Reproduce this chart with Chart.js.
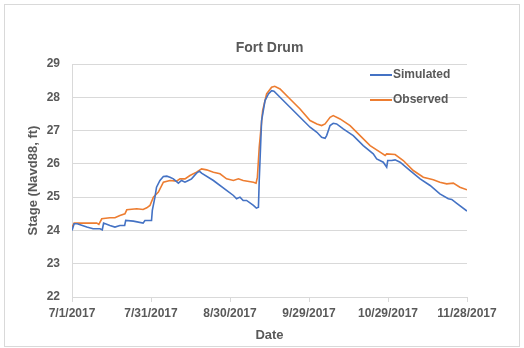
<!DOCTYPE html>
<html>
<head>
<meta charset="utf-8">
<script src="https://cdn.jsdelivr.net/npm/chart.js@4/dist/chart.umd.min.js"></script>
<style>
  html, body { margin: 0; padding: 0; background: #fff; }
  #wrap { width: 524px; height: 348px; }
</style>
</head>
<body>
<div id="wrap"><canvas id="chart" width="524" height="348"></canvas></div>
<script>
// Данные графика (дни от 7/1/2017)
const tickLabels = ['7/1/2017', '7/31/2017', '8/30/2017', '9/29/2017', '10/29/2017', '11/28/2017'];

const simDays = [0, 0.8, 2, 5.6, 8, 10.6, 11.5, 12, 14.4, 16.3, 18.2, 20, 20.4, 23.3, 27, 27.7, 30.2, 30.5, 31.5, 32.1,
  33.4, 34.7, 36, 37.2, 38.5, 40.4, 41.6, 42.9, 44.2, 45.4, 47.3, 48.4, 49.2, 53.7, 58.7, 61.3, 62.5, 63.8, 65, 66.3,
  68.9, 70, 70.8, 71.1, 72, 73.3, 74.6, 75.8, 76.7, 79, 82.8, 86.6, 90.4, 93, 94.8, 96.1, 96.7, 98, 99.2, 100.5,
  103, 106.8, 110.6, 114.4, 115.7, 118.2, 119.5, 119.9, 121.4, 122.7, 124.6, 128.4, 132.2, 136, 139.7, 142.9, 144.2, 146, 150];
const simStage = [24.0, 24.2, 24.2, 24.1, 24.05, 24.05, 24.02, 24.22, 24.15, 24.1, 24.15, 24.15, 24.3, 24.28, 24.22, 24.3, 24.3, 24.6, 25.0, 25.3,
  25.5, 25.62, 25.63, 25.6, 25.55, 25.42, 25.5, 25.45, 25.5, 25.55, 25.72, 25.78, 25.72, 25.5, 25.2, 25.05, 24.95, 25.0, 24.9, 24.9,
  24.75, 24.67, 24.7, 25.5, 27.3, 27.9, 28.1, 28.2, 28.18, 28.0, 27.7, 27.4, 27.1, 26.95, 26.8, 26.77, 26.85, 27.15, 27.22, 27.2,
  27.05, 26.85, 26.55, 26.3, 26.15, 26.05, 25.9, 26.1, 26.1, 26.12, 26.05, 25.8, 25.55, 25.35, 25.1, 24.95, 24.93, 24.82, 24.58];

const obsDays = [0, 0.8, 5.6, 9.4, 10.2, 11.3, 14.4, 16.3, 18.2, 20.1, 20.8, 24.6, 27, 28.4, 29.6, 30.9, 32.8, 34.7, 37.2, 39.7,
  41, 42.9, 44.8, 47.3, 49.2, 51.1, 53.7, 56.2, 58.7, 61.3, 63.2, 65, 68.9, 69.9, 70.4, 71.1, 72.4, 73.9, 75.8, 77,
  79, 82.8, 86.6, 90.4, 93, 94.8, 96.1, 98, 99.2, 101.8, 105.6, 109.4, 113.2, 117, 118.9, 119.5, 122.7, 125.8, 129.6, 133.4,
  137.2, 139.7, 142.3, 144.8, 147.3, 150];
const obsStage = [24.1, 24.22, 24.22, 24.22, 24.18, 24.35, 24.38, 24.38, 24.45, 24.5, 24.62, 24.65, 24.63, 24.68, 24.75, 25.0, 25.15, 25.45, 25.5, 25.48,
  25.55, 25.55, 25.65, 25.75, 25.85, 25.82, 25.75, 25.7, 25.55, 25.5, 25.55, 25.5, 25.45, 25.42, 25.6, 26.5, 27.6, 28.1, 28.3, 28.33,
  28.25, 27.95, 27.65, 27.3, 27.2, 27.15, 27.2, 27.4, 27.45, 27.35, 27.15, 26.85, 26.55, 26.35, 26.25, 26.3, 26.28, 26.1, 25.8, 25.6,
  25.52, 25.45, 25.4, 25.42, 25.3, 25.22];

const GRAY = '#595959';
const FONT = "'Liberation Sans', Arial, sans-serif";

function toPoints(days, vals) {
  return days.map((d, i) => ({ x: d, y: vals[i] }));
}

// Заголовок, легенда и рамка рисуются вручную
const decor = {
  id: 'decor',
  beforeDraw(chart) {
    const { ctx } = chart;
    ctx.save();
    ctx.fillStyle = '#fff';
    ctx.fillRect(0, 0, chart.width, chart.height);
    ctx.strokeStyle = '#d9d9d9';
    ctx.lineWidth = 1;
    ctx.strokeRect(4.5, 4.5, chart.width - 9, chart.height - 6);
    ctx.restore();
  },
  afterDraw(chart) {
    const { ctx, chartArea } = chart;
    ctx.save();
    ctx.fillStyle = GRAY;
    ctx.font = `bold 14px ${FONT}`;
    ctx.textAlign = 'center';
    ctx.textBaseline = 'middle';
    ctx.fillText('Fort Drum', (chartArea.left + chartArea.right) / 2, 48);

    ctx.font = `bold 12px ${FONT}`;
    ctx.textAlign = 'left';
    chart.data.datasets.forEach((ds, i) => {
      const y = 75 + i * 25;
      ctx.strokeStyle = ds.borderColor;
      ctx.lineWidth = 2;
      ctx.beginPath();
      ctx.moveTo(370, y);
      ctx.lineTo(392, y);
      ctx.stroke();
      ctx.fillText(ds.label, 393, y);
    });
    ctx.restore();
  },
};

const chart = new Chart(document.getElementById('chart'), {
  type: 'line',
  data: {
    datasets: [
      {
        label: 'Simulated',
        data: toPoints(simDays, simStage),
        borderColor: '#4472C4',
        borderWidth: 1.6,
        pointRadius: 0,
        tension: 0,
      },
      {
        label: 'Observed',
        data: toPoints(obsDays, obsStage),
        borderColor: '#ED7D31',
        borderWidth: 1.6,
        pointRadius: 0,
        tension: 0,
      },
    ],
  },
  options: {
    responsive: false,
    animation: false,
    layout: {
      padding: { left: 10, right: 57, top: 64, bottom: 5 },
    },
    scales: {
      x: {
        type: 'linear',
        min: 0,
        max: 150,
        afterBuildTicks: (axis) => {
          axis.ticks = tickLabels.map((t, i) => ({ value: i * 30 }));
        },
        ticks: {
          color: GRAY,
          font: { family: FONT, size: 12, weight: 'bold' },
          padding: 4,
          maxRotation: 0,
          callback: (v, i) => tickLabels[i],
        },
        grid: {
          drawOnChartArea: false,
          drawTicks: true,
          tickLength: 5,
          color: '#d9d9d9',
        },
        border: { display: true, color: '#d9d9d9' },
        title: {
          display: true,
          text: 'Date',
          color: GRAY,
          font: { family: FONT, size: 13, weight: 'bold' },
          padding: { top: 4, bottom: 0 },
        },
        afterFit: (axis) => { axis.height = 46; },
      },
      y: {
        min: 22,
        max: 29,
        ticks: {
          stepSize: 1,
          color: GRAY,
          font: { family: FONT, size: 12, weight: 'bold' },
          padding: 12,
        },
        grid: {
          color: '#d9d9d9',
          drawTicks: false,
        },
        border: { display: true, color: '#d9d9d9' },
        title: {
          display: true,
          text: 'Stage (Navd88, ft)',
          color: GRAY,
          font: { family: FONT, size: 13, weight: 'bold' },
          padding: { top: 16, bottom: 0 },
        },
        afterFit: (axis) => { axis.width = 62; },
      },
    },
    plugins: {
      legend: { display: false },
      title: { display: false },
      tooltip: { enabled: false },
    },
  },
  plugins: [decor],
});
</script>
</body>
</html>
